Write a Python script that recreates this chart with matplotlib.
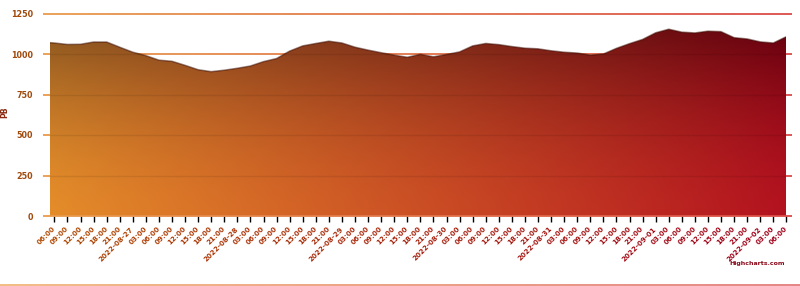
import numpy as np
import pandas as pd
import matplotlib
matplotlib.use('Agg')
import matplotlib.pyplot as plt
from matplotlib.collections import LineCollection
from matplotlib.colors import LinearSegmentedColormap, to_rgb
from matplotlib.patches import Polygon

# dados (valor a cada 3 horas a partir de 2022-08-26 06:00)
start = pd.Timestamp('2022-08-26 06:00')
step_h = 3
lead_h = -1          # primeiro ponto, uma hora antes
lead_value = 1070
values = [1068, 1059, 1060, 1074, 1074, 1042, 1011, 990, 962, 955,
          930, 903, 891, 900, 912, 926, 953, 972, 1018, 1050,
          1065, 1079, 1068, 1042, 1024, 1008, 993, 980, 998, 983,
          997, 1013, 1050, 1065, 1058, 1046, 1036, 1032, 1020, 1011,
          1006, 993, 1000, 1035, 1064, 1090, 1131, 1153, 1135, 1130,
          1141, 1138, 1101, 1093, 1075, 1068, 1107]
y_ticks = [0, 250, 500, 750, 1000, 1250]
y_title = 'PB'
credit = 'Highcharts.com'

hours = np.array([lead_h] + [i * step_h for i in range(len(values))], dtype=float)
vals = np.array([lead_value] + values, dtype=float)
tick_hours = np.arange(0, hours[-1] + 1, step_h)
tick_times = [start + pd.Timedelta(hours=int(h)) for h in tick_hours]
tick_labels = [t.strftime('%Y-%m-%d') if t.hour == 0 else t.strftime('%H:%M') for t in tick_times]

# cores
grid_cmap = LinearSegmentedColormap.from_list('grid', ['#E89B4C', '#DA4B48'])
label_cmap = LinearSegmentedColormap.from_list('lab', ['#B04800', '#A0001A'])
BL, BR = np.array(to_rgb('#E48C2A')), np.array(to_rgb('#B3121F'))
TL, TR = np.array(to_rgb('#8A5520')), np.array(to_rgb('#66000F'))

W, H = 800, 286
fig = plt.figure(figsize=(W / 100, H / 100), dpi=100)
x0, x1 = hours[0], hours[-1]
ax = fig.add_axes([50 / W, 1 - 216 / H, 736.4 / W, (216 - 13.5) / H])
ax.set_xlim(x0, x1)
ax.set_ylim(0, 1250)
for s in ax.spines.values():
    s.set_visible(False)

# linhas de grade com gradiente
n = 300
xs = np.linspace(-7 / 736.4, 1 + 6 / 736.4, n)
for yv in y_ticks:
    segs = [[(xs[i], yv), (xs[i + 1], yv)] for i in range(n - 1)]
    cols = grid_cmap(np.linspace(0, 1, n - 1))
    lc = LineCollection(segs, colors=cols, linewidths=1.3,
                        transform=ax.get_yaxis_transform(), clip_on=False,
                        zorder=4 if yv == 0 else 1)
    ax.add_collection(lc)

# área com gradiente 2D
ymax = vals.max()
gx = np.linspace(0, 1, 400)
gy = np.linspace(0, 1, 200)
T, S = np.meshgrid(gx, gy)
w = (S ** 1.7)[..., None]
bottom = (1 - T)[..., None] * BL + T[..., None] * BR
top = (1 - T)[..., None] * TL + T[..., None] * TR
rgb = (1 - w) * bottom + w * top

poly_pts = [(x0, 0)] + list(zip(hours, vals)) + [(x1, 0)]
poly = Polygon(poly_pts, closed=True, facecolor='none', edgecolor='none')
ax.add_patch(poly)
im = ax.imshow(rgb, extent=[x0, x1, 0, ymax], origin='lower', aspect='auto',
               interpolation='bilinear', zorder=2)
im.set_clip_path(poly)

# grade fraca por cima da área
for yv in y_ticks[1:]:
    ln, = ax.plot([x0, x1], [yv, yv], color='black', alpha=0.08, lw=1, zorder=3)
    ln.set_clip_path(poly)

ax.plot(hours, vals, color='#3A0A00', alpha=0.5, lw=1.1, zorder=3)

# eixo y
ax.set_yticks(y_ticks)
ax.set_yticklabels([str(v) for v in y_ticks], fontsize=5.8, fontweight='bold', color='#A04A0C')
ax.tick_params(axis='y', length=0, pad=12)

# eixo x
ax.set_xticks(tick_hours)
ax.set_xticklabels(tick_labels, fontsize=5.1, fontweight='bold', rotation=45,
                   ha='right', va='center', rotation_mode='anchor')
ax.tick_params(axis='x', length=4.5, width=1, pad=4)
frac = np.linspace(0, 1, len(tick_hours))
for tk, lab, f in zip(ax.xaxis.get_major_ticks(), ax.get_xticklabels(), frac):
    tk.tick1line.set_color(grid_cmap(f))
    lab.set_color(label_cmap(f))

fig.text(5 / W, 1 - 112 / H, y_title, rotation=90, ha='center', va='center',
         fontsize=5.5, fontweight='bold', color='#8A2A10')
fig.text(785 / W, 1 - 264 / H, credit, ha='right', va='center',
         fontsize=4.5, fontweight='bold', color='#8B0A1A')

# linha de borda inferior
bx = np.linspace(0, 1, n)
segs = [[(bx[i], 1 - 284.5 / H), (bx[i + 1], 1 - 284.5 / H)] for i in range(n - 1)]
fig.add_artist(LineCollection(segs, colors=LinearSegmentedColormap.from_list(
    'b', ['#F0B070', '#E07070'])(np.linspace(0, 1, n - 1)), linewidths=1.2,
    transform=fig.transFigure))

fig.savefig('out.png', dpi=100)
